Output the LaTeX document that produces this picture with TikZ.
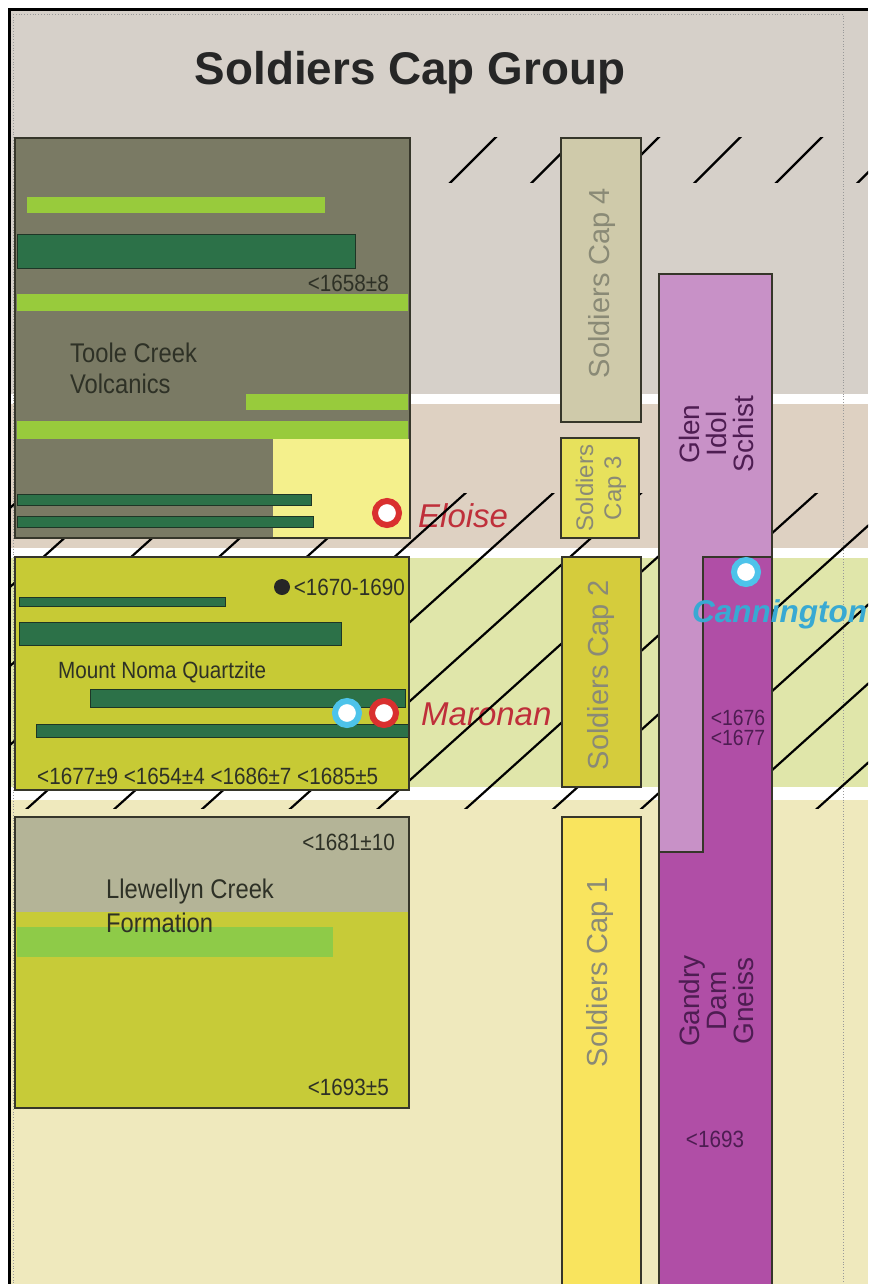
\documentclass[tikz,border=0pt]{standalone}
\usepackage{fontspec}
\setmainfont{Liberation Sans}
\newfontfamily\narrowfont[FakeStretch=0.88]{Liberation Sans}
\definecolor{bandA}{HTML}{D6D0C9}
\definecolor{bandB}{HTML}{DED1C2}
\definecolor{bandC}{HTML}{E0E6AA}
\definecolor{bandD}{HTML}{EFE9BD}
\definecolor{toole}{HTML}{7A7A64}
\definecolor{lgreen}{HTML}{98CB3C}
\definecolor{dgreen}{HTML}{2C7148}
\definecolor{dgline}{HTML}{1E3626}
\definecolor{paleyel}{HTML}{F4F08C}
\definecolor{mnq}{HTML}{C7CA35}
\definecolor{llgrey}{HTML}{B4B497}
\definecolor{llolive}{HTML}{C7CB38}
\definecolor{llgreen}{HTML}{8ECB48}
\definecolor{scfour}{HTML}{CFCAAA}
\definecolor{scthree}{HTML}{E7E15C}
\definecolor{sctwo}{HTML}{D5CC3C}
\definecolor{scone}{HTML}{F9E45E}
\definecolor{sctext}{HTML}{8A8A76}
\definecolor{glen}{HTML}{C891C7}
\definecolor{gdg}{HTML}{B04EA6}
\definecolor{purtext}{HTML}{4E1D52}
\definecolor{minered}{HTML}{BF2F3A}
\definecolor{ringred}{HTML}{D9302F}
\definecolor{ringcyan}{HTML}{4DC3EA}
\definecolor{canncyan}{HTML}{38A9D3}
\definecolor{labeltext}{HTML}{2E3126}
\definecolor{boxline}{HTML}{36362A}
\newcommand\fsmall{\narrowfont\fontsize{23.5}{27}\selectfont}
\newcommand\fmid{\narrowfont\fontsize{27}{31}\selectfont}
\begin{document}
\begin{tikzpicture}[x=1pt,y=-1pt,
  boxst/.style={draw=boxline, line width=1.3pt},
  darkbar/.style={fill=dgreen, draw=dgline, line width=1pt},
  lightbar/.style={fill=lgreen},
  hatchst/.style={draw=black, line width=2.2pt},
  ringst/.style={draw=#1, fill=white, line width=6pt},
  dotline/.style={draw=gray!80, line width=0.8pt, dotted},
  lbl/.style={inner sep=0pt, text=labeltext},
  small/.style={lbl, font=\fsmall},
  mid/.style={lbl, font=\fmid},
  sclabel/.style={inner sep=0pt, rotate=90, text=sctext, align=center},
  purlabel/.style={inner sep=0pt, rotate=90, text=purtext, align=center},
  mine/.style={inner sep=0pt, text=minered, font=\fontsize{33}{36}\selectfont\itshape}
]
\useasboundingbox (0,0) rectangle (868,1284);
\fill[white] (0,0) rectangle (868,1284);
% background bands
\fill[bandA] (10,10) rectangle (868,394);
\fill[white] (10,394) rectangle (868,404);
\fill[bandB] (10,404) rectangle (868,548);
\fill[white] (10,548) rectangle (868,558);
\fill[bandC] (10,558) rectangle (868,787);
\fill[white] (10,787) rectangle (868,800);
\fill[bandD] (10,800) rectangle (868,1284);
% dotted frame lines
\draw[dotline] (13,14) -- (843,14) -- (843,1284);
\draw[dotline] (13,14) -- (13,1284);
% mine names under the hatching
\node[mine, anchor=base west] (eloise) at (418,527) {Eloise};
\node[mine, anchor=base west] (maronan) at (421,725) {Maronan};
% hatching
\begin{scope}
  \clip (10,493) rectangle (868,808);
  \foreach \k in {-7,...,10} {
    \draw[hatchst] (0,{912+79*\k}) -- (1000,{912+79*\k-900});
  }
\end{scope}
\begin{scope}
  \clip (412,138) rectangle (868,183);
  \foreach \k in {0,...,5} {
    \draw[hatchst] (0,{633+81.5*\k}) -- (1000,{633+81.5*\k-1000});
  }
\end{scope}
% outer frame
\draw[line width=3pt] (9.5,1284) -- (9.5,9.5) -- (868,9.5);
% title
\node[inner sep=0pt, anchor=base, text=black!85, font=\fontsize{45.8}{50}\selectfont\bfseries] (title) at (410,85) {Soldiers Cap Group};

% Toole Creek Volcanics
\fill[toole] (15,138) rectangle (410,538);
\fill[lightbar] (27,197) rectangle (325,213);
\draw[darkbar] (17,234) rectangle (355,268);
\fill[lightbar] (17,294) rectangle (408,311);
\fill[lightbar] (246,394) rectangle (408,410);
\fill[lightbar] (17,421) rectangle (408,439);
\fill[paleyel] (273,439) rectangle (410,538);
\draw[darkbar] (17,494) rectangle (311,505);
\draw[darkbar] (17,516) rectangle (313,527);
\draw[boxst] (15,138) rectangle (410,538);
\node[small, anchor=base east] (tcage) at (389,291) {<1658±8};
\node[mid, anchor=base west] (tcv1) at (70,362) {Toole Creek};
\node[mid, anchor=base west] (tcv2) at (70,393) {Volcanics};
\draw[ringst=ringred] (387,513) circle[radius=12];

% Mount Noma Quartzite
\fill[mnq] (15,557) rectangle (409,790);
\draw[darkbar] (19,597) rectangle (225,606);
\draw[darkbar] (19,622) rectangle (341,645);
\draw[darkbar] (90,689) rectangle (405,707);
\draw[darkbar] (36,724) rectangle (409,737);
\draw[boxst] (15,557) rectangle (409,790);
\fill[black!85] (282,587) circle[radius=8];
\node[small, anchor=base east] (mnqage) at (405,595) {<1670-1690};
\node[small, anchor=base west] (mnqname) at (58,678) {Mount Noma Quartzite};
\node[small, anchor=base west] (mnqages) at (37,784) {<1677±9 <1654±4 <1686±7 <1685±5};
\draw[ringst=ringcyan] (347,713) circle[radius=12];
\draw[ringst=ringred] (384,713) circle[radius=12];

% Llewellyn Creek Formation
\fill[llgrey] (15,817) rectangle (409,912);
\fill[llolive] (15,912) rectangle (409,1108);
\fill[llgreen] (17,927) rectangle (333,957);
\draw[boxst] (15,817) rectangle (409,1108);
\node[small, anchor=base east] (lcage1) at (395,850) {<1681±10};
\node[mid, anchor=base west] (lcf1) at (106,898) {Llewellyn Creek};
\node[mid, anchor=base west] (lcf2) at (106,932) {Formation};
\node[small, anchor=base east] (lcage2) at (389,1095) {<1693±5};

% Soldiers Cap columns
\draw[boxst, fill=scfour] (561,138) rectangle (641,422);
\draw[boxst, fill=scthree] (561,438) rectangle (639,538);
\draw[boxst, fill=sctwo] (562,557) rectangle (641,787);
\draw[boxst, fill=scone] (562,817) rectangle (641,1290);
\node[sclabel, font=\fontsize{29}{30}\selectfont] (sc4t) at (602,283) {Soldiers Cap 4};
\node[sclabel, font=\fontsize{24}{28}\selectfont] (sc3t) at (601,488) {Soldiers\\Cap 3};
\node[sclabel, font=\fontsize{29}{30}\selectfont] (sc2t) at (601,675) {Soldiers Cap 2};
\node[sclabel, font=\fontsize{29}{30}\selectfont] (sc1t) at (600,972) {Soldiers Cap 1};

% Glen Idol Schist and Gandry Dam Gneiss
\draw[boxst, fill=glen] (659,274) rectangle (772,852);
\draw[boxst, fill=gdg] (703,557) -- (772,557) -- (772,1290) -- (659,1290) -- (659,852) -- (703,852) -- cycle;
\node[purlabel, font=\fontsize{28}{27}\selectfont] (gist) at (716,434) {Glen\\Idol\\Schist};
\node[purlabel, font=\fontsize{28}{27}\selectfont] (gdgt) at (716,1001) {Gandry\\Dam\\Gneiss};
\node[inner sep=0pt, text=purtext, align=center, font=\narrowfont\fontsize{22}{19.5}\selectfont] (gdga1) at (738,728) {<1676\\<1677};
\node[small, anchor=base, text=purtext] (gdga3) at (715,1147) {<1693};
\draw[ringst=ringcyan] (746,572) circle[radius=12];
\node[inner sep=0pt, anchor=base west, text=canncyan, font=\fontsize{31.5}{34}\selectfont\bfseries\itshape] (cann) at (692,622) {Cannington};
\end{tikzpicture}
\end{document}
